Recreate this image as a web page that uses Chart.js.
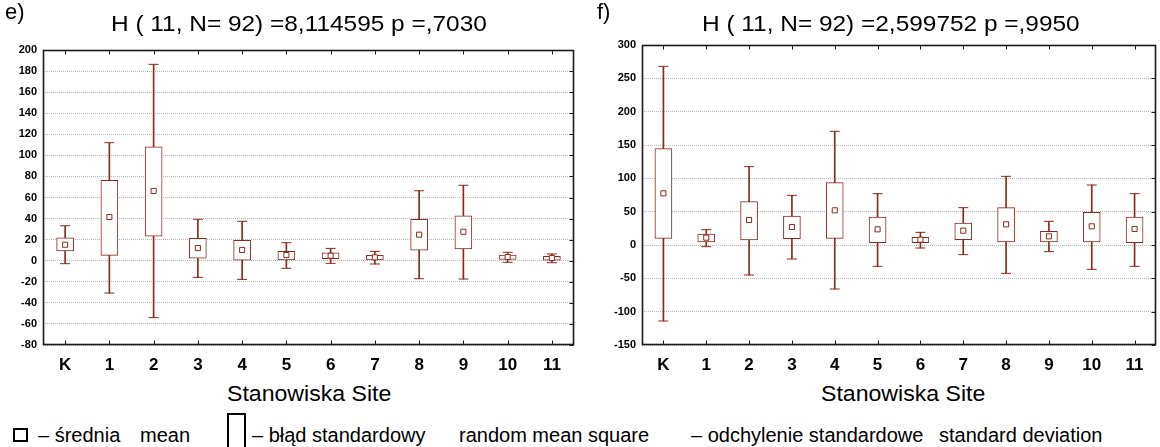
<!DOCTYPE html>
<html>
<head>
<meta charset="utf-8">
<script src="https://cdn.jsdelivr.net/npm/chart.js@4.4.1/dist/chart.umd.min.js"></script>
<style>
  body { margin: 0; width: 1160px; height: 447px; overflow: hidden; background: #fff; position: relative;
         font-family: "Liberation Sans", Arial, sans-serif; color: #000; }
  .t { position: absolute; white-space: nowrap; line-height: 1; transform-origin: 0 0; }
  .wide { transform: scaleX(1.11); }
  .axt { transform: scaleX(1.05); }
  #chartE { position: absolute; left: 0; top: 0; }
  #chartF { position: absolute; left: 580px; top: 0; }
  .sym { position: absolute; box-sizing: border-box; border: 2px solid #000; }
</style>
</head>
<body>
<canvas id="chartE" width="580" height="380"></canvas>
<canvas id="chartF" width="582" height="380"></canvas>

<div class="t" style="left:5px; top:1px; font-size:22px;">e)</div>
<div class="t wide" style="left:111px; top:13px; font-size:22px;">H ( 11, N= 92) =8,114595 p =,7030</div>
<div class="t" style="left:597px; top:1px; font-size:22px;">f)</div>
<div class="t wide" style="left:702px; top:13px; font-size:22px;">H ( 11, N= 92) =2,599752 p =,9950</div>

<div class="t axt" style="left:227px; top:383px; font-size:22px;">Stanowiska Site</div>
<div class="t axt" style="left:821px; top:383px; font-size:22px;">Stanowiska Site</div>

<div class="sym" style="left:13px; top:428px; width:15px; height:14px;"></div>
<div class="t" style="left:38px; top:425px; font-size:20px;">– średnia</div>
<div class="t" style="left:140px; top:425px; font-size:20px;">mean</div>
<div class="sym" style="left:227px; top:413px; width:19px; height:40px;"></div>
<div class="t" style="left:252px; top:425px; font-size:20px;">– błąd standardowy</div>
<div class="t" style="left:459px; top:425px; font-size:20px;">random mean square</div>
<div class="t" style="left:691px; top:425px; font-size:20px;">– odchylenie standardowe</div>
<div class="t" style="left:939px; top:425px; font-size:20px;">standard deviation</div>

<script>
const sites = ['K', '1', '2', '3', '4', '5', '6', '7', '8', '9', '10', '11'];

// e) mean, mean ± SE box, mean ± SD whiskers
const meanE = [15.2, 41.5, 66.2, 12, 10.2, 5.4, 4.8, 3.2, 24.7, 27.5, 3.5, 2.6];
const seLowE = [9.2, 5.1, 23.4, 2.3, 0, 0.7, 1.9, 0.7, 9.9, 11.1, 1.3, 0.4];
const seHighE = [21.8, 76.3, 108.2, 21.2, 19.3, 8.9, 7.6, 5.1, 39.3, 42.7, 5.4, 4.2];
const sdLowE = [-2.8, -30.7, -54, -15.8, -17.7, -7.2, -2.5, -3.1, -17.1, -17.4, -1.5, -1.9];
const sdHighE = [33.2, 112, 186.4, 39.3, 37.4, 17.1, 11.7, 8.9, 66.4, 71.6, 8, 6.4];
const yMinE = -80, yMaxE = 200, yStepE = 20;

// f)
const meanF = [77.5, 11, 37.5, 27, 52, 23.5, 8, 21.5, 31, 13, 28, 24];
const seLowF = [10, 4.5, 7.5, 9.5, 10, 3.5, 3.5, 8, 4.5, 4.5, 4.5, 3.5];
const seHighF = [144.5, 16.5, 65, 43.5, 93.5, 42, 11.5, 33, 56, 20.5, 49, 42];
const sdLowF = [-114, -2.5, -45, -21, -66, -32, -4.5, -14.5, -42.5, -10, -36.5, -32];
const sdHighF = [268, 23, 117.5, 74.5, 170.5, 77, 19, 56, 103, 35.5, 90, 77];
const yMinF = -150, yMaxF = 300, yStepF = 50;

const RED = '#8c2a1b';

// frame round the plot plus the short inward ticks
const framePlugin = {
  id: 'frame',
  afterDraw(chart) {
    const { ctx, chartArea: a, scales } = chart;
    const l = Math.round(a.left) + 0.5, r = Math.round(a.right) - 0.5;
    const t = Math.round(a.top) + 0.5, b = Math.round(a.bottom) - 0.5;
    ctx.save();
    ctx.strokeStyle = '#1a1a1a';
    ctx.lineWidth = 1;
    ctx.beginPath();
    scales.x.ticks.forEach((tick, i) => {
      const x = Math.round(scales.x.getPixelForTick(i)) + 0.5;
      ctx.moveTo(x, t); ctx.lineTo(x, t + 4);
      ctx.moveTo(x, b); ctx.lineTo(x, b - 4);
    });
    scales.y.ticks.forEach((tick, i) => {
      const y = Math.round(scales.y.getPixelForTick(i)) + 0.5;
      ctx.moveTo(r, y); ctx.lineTo(r - 4, y);
    });
    ctx.stroke();
    ctx.lineWidth = 1.6;
    ctx.strokeRect(l, t, r - l, b - t);
    ctx.restore();
  }
};

const makeChart = (id, mean, seLow, seHigh, sdLow, sdHigh, yMin, yMax, yStep, box) => {
  const canvas = document.getElementById(id);
  return new Chart(canvas, {
    type: 'bar',
    data: {
      labels: sites,
      datasets: [
        {
          data: sites.map((s, i) => [sdLow[i], sdHigh[i]]),
          backgroundColor: RED,
          barThickness: 1,
          grouped: false,
          order: 4
        },
        {
          data: sites.map((s, i) => [seLow[i], seHigh[i]]),
          backgroundColor: '#fff',
          borderColor: RED,
          borderWidth: 1,
          borderSkipped: false,
          barThickness: 17,
          grouped: false,
          order: 3
        },
        {
          type: 'line', data: sdHigh, showLine: false,
          pointStyle: 'line', pointRadius: 5, pointBorderColor: RED, pointBorderWidth: 1, order: 2
        },
        {
          type: 'line', data: sdLow, showLine: false,
          pointStyle: 'line', pointRadius: 5, pointBorderColor: RED, pointBorderWidth: 1, order: 2
        },
        {
          type: 'line', data: mean, showLine: false,
          pointStyle: 'rect', pointRadius: 3.6, pointBackgroundColor: '#fff',
          pointBorderColor: RED, pointBorderWidth: 1, order: 1
        }
      ]
    },
    options: {
      responsive: false,
      animation: false,
      events: [],
      layout: { padding: { left: 0, top: box.top, right: box.right, bottom: 0 } },
      plugins: { legend: { display: false }, tooltip: { enabled: false } },
      scales: {
        x: {
          type: 'category',
          offset: true,
          grid: { display: false, drawTicks: false },
          border: { display: false },
          ticks: { color: '#000', padding: 10, font: { family: '"Liberation Sans", Arial', size: 17, weight: 'bold' } },
          afterFit: scale => { scale.height = canvas.height - box.bottom; }
        },
        y: {
          min: yMin,
          max: yMax,
          grid: { color: '#b8b8b8', lineWidth: 1, drawTicks: false },
          border: { display: false, dash: [1, 1] },
          ticks: {
            stepSize: yStep, color: '#000', padding: 6,
            font: { family: '"Liberation Sans", Arial', size: 11, weight: 'bold' }
          },
          afterFit: scale => { scale.width = box.left; }
        }
      }
    },
    plugins: [framePlugin]
  });
};

makeChart('chartE', meanE, seLowE, seHighE, sdLowE, sdHighE, yMinE, yMaxE, yStepE,
  { left: 43, top: 50, right: 6, bottom: 345 });
makeChart('chartF', meanF, seLowF, seHighF, sdLowF, sdHighF, yMinF, yMaxF, yStepF,
  { left: 62, top: 45, right: 0, bottom: 345 });
</script>
</body>
</html>
